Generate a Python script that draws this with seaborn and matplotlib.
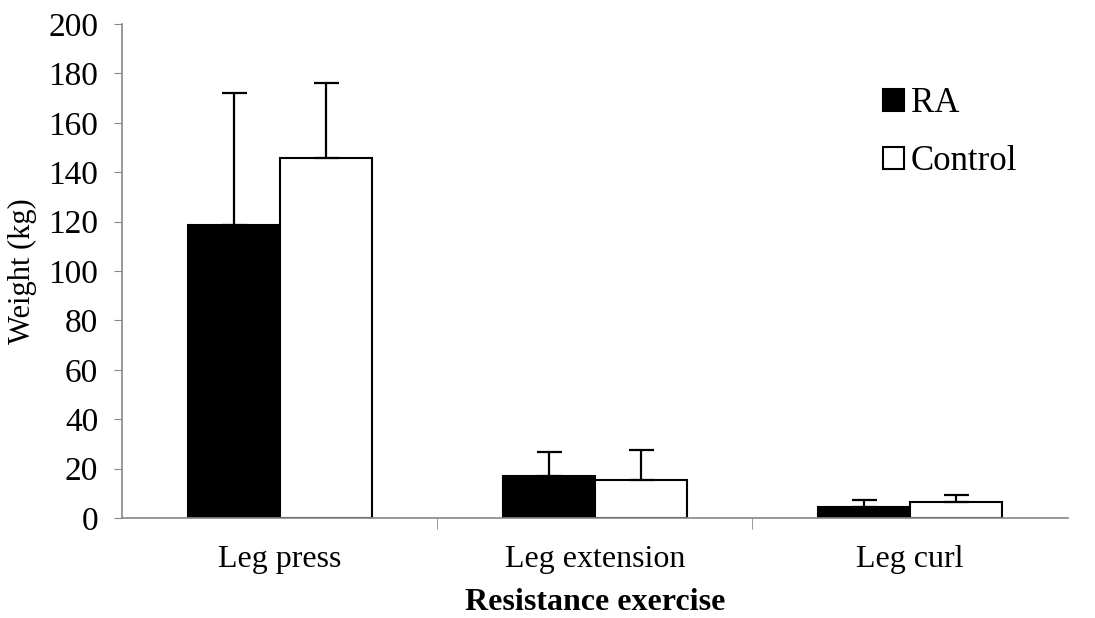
import matplotlib.pyplot as plt
import seaborn as sns
import pandas as pd
import numpy as np

# Data
exercises = ["Leg press", "Leg extension", "Leg curl"]
groups = ["RA", "Control"]
ra_mean = [118.7, 17.1, 4.3]
ra_sd = [53.5, 9.7, 3.0]
control_mean = [145.6, 15.5, 6.5]
control_sd = [30.4, 12.0, 2.8]

df = pd.DataFrame({
    "Exercise": exercises * 2,
    "Group": ["RA"] * 3 + ["Control"] * 3,
    "Weight": ra_mean + control_mean,
    "SD": ra_sd + control_sd,
})

sns.set_style("white")
plt.rcParams["font.family"] = ["Liberation Serif", "DejaVu Serif"]
plt.rcParams["text.color"] = "black"
plt.rcParams["axes.labelcolor"] = "black"

fig = plt.figure(figsize=(10.95, 6.18), dpi=100)
ax = fig.add_axes([0.1114, 0.1618, 0.8636, 0.7993])

sns.barplot(data=df, x="Exercise", y="Weight", hue="Group", order=exercises,
            hue_order=groups, palette={"RA": "black", "Control": "white"},
            edgecolor="black", linewidth=1.5, width=0.584, errorbar=None, ax=ax)

# upward-only error bars
for patch_group, grp in zip(ax.containers, groups):
    sub = df[df["Group"] == grp].set_index("Exercise").loc[exercises]
    xs = [p.get_x() + p.get_width() / 2 for p in patch_group]
    ax.errorbar(xs, sub["Weight"], yerr=[np.zeros(len(xs)), sub["SD"]],
                fmt="none", ecolor="black", elinewidth=1.6, capsize=9,
                capthick=1.6, zorder=3)

ax.set_ylim(0, 200)
ax.set_xlim(-0.5, 2.5)
ax.set_yticks(range(0, 201, 20))
ax.set_ylabel("Weight (kg)", fontsize=22, labelpad=8)
ax.set_xlabel("Resistance exercise", fontsize=23, fontweight="bold", labelpad=10)
ax.tick_params(axis="y", labelsize=24, left=True, length=6, pad=11,
               color="#888888", labelcolor="black")
ax.tick_params(axis="x", labelsize=23, bottom=False, pad=16, labelcolor="black")
ax.set_xticks([0.5, 1.5], minor=True)
ax.tick_params(axis="x", which="minor", bottom=True, length=8, color="#888888")

sns.despine(ax=ax)
for s in ["left", "bottom"]:
    ax.spines[s].set_color("#888888")
    ax.spines[s].set_linewidth(1.2)

leg = ax.legend(loc="upper left", bbox_to_anchor=(0.772, 0.935), frameon=False,
                fontsize=25, handlelength=0.6, handleheight=0.6,
                handletextpad=0.2, labelspacing=0.72)

fig.savefig("out.png", dpi=100)
